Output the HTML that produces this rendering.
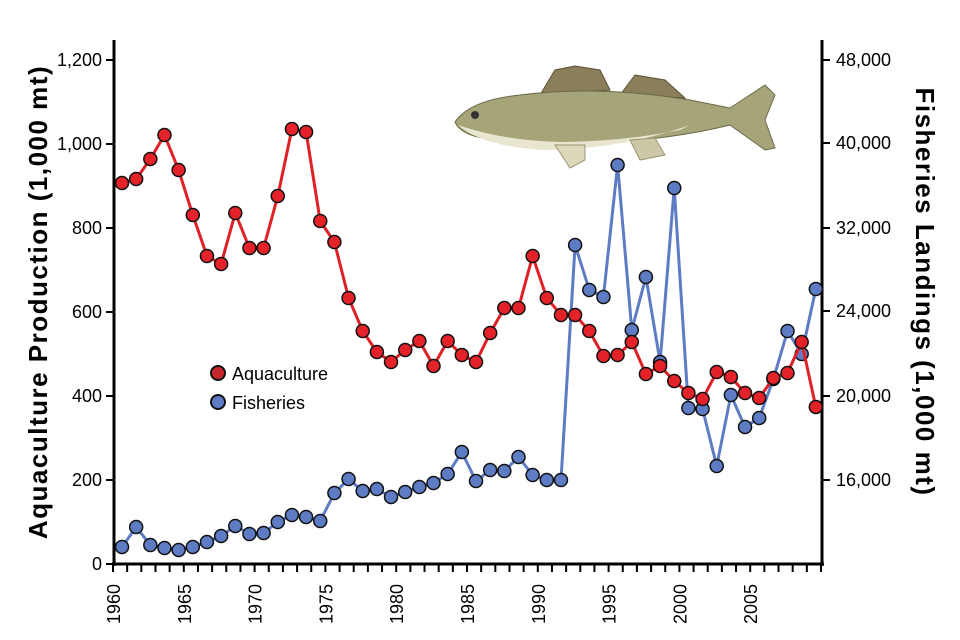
<!DOCTYPE html>
<html><head><meta charset="utf-8"><style>
html,body{margin:0;padding:0;background:#fff}
svg{display:block;font-family:"Liberation Sans",sans-serif}
</style></head><body>
<svg width="960" height="640" viewBox="0 0 960 640">
<!-- fish -->
<g>
<path d="M540 95 L555 70 L575 66 L600 70 L610 90 Z" fill="#8a7f5a" stroke="#5a5030" stroke-width="1"/>
<path d="M620 95 L635 75 L665 80 L685 98 Z" fill="#8a7f5a" stroke="#5a5030"/>
<path d="M455 122 Q470 100 520 95 Q600 85 690 100 L730 108 L765 85 L775 95 L765 120 L775 148 L765 150 L730 125 Q690 135 640 140 Q560 148 500 140 Q462 138 455 122 Z" fill="#a6a57a" stroke="#6b6a48" stroke-width="1"/>
<path d="M458 125 Q500 140 560 142 Q620 142 680 130 L690 125 Q620 150 540 150 Q480 145 458 125 Z" fill="#e9e6cf"/>
<path d="M555 145 L570 168 L585 160 L585 145 Z" fill="#ddd8bb" stroke="#9a9470"/>
<path d="M630 140 L640 160 L665 155 L655 138 Z" fill="#ccc7a6" stroke="#9a9470"/>
<circle cx="475" cy="115" r="4" fill="#333"/>
</g>
<!-- axes -->
<g stroke="#000" stroke-width="3" fill="none">
<line x1="114" y1="40" x2="114" y2="566"/>
<line x1="822" y1="40" x2="822" y2="566"/>
<line x1="112" y1="564" x2="824" y2="564"/>
</g>
<g stroke="#000" stroke-width="2">
<line x1="106" y1="60" x2="114" y2="60"/><line x1="106" y1="144" x2="114" y2="144"/>
<line x1="106" y1="228" x2="114" y2="228"/><line x1="106" y1="312" x2="114" y2="312"/>
<line x1="106" y1="396" x2="114" y2="396"/><line x1="106" y1="480" x2="114" y2="480"/>
<line x1="106" y1="564" x2="114" y2="564"/>
<line x1="822" y1="60" x2="830" y2="60"/><line x1="822" y1="143" x2="830" y2="143"/>
<line x1="822" y1="228" x2="830" y2="228"/><line x1="822" y1="311" x2="830" y2="311"/>
<line x1="822" y1="396" x2="830" y2="396"/><line x1="822" y1="480" x2="830" y2="480"/>
</g>
<g id="xt" stroke="#000" stroke-width="2"></g>
<g font-size="18" text-anchor="end" fill="#000">
<text x="102" y="66">1,200</text><text x="102" y="150">1,000</text><text x="102" y="234">800</text>
<text x="102" y="318">600</text><text x="102" y="402">400</text><text x="102" y="486">200</text><text x="102" y="570">0</text>
</g>
<g font-size="18" text-anchor="start" fill="#000">
<text x="836" y="66">48,000</text><text x="836" y="149">40,000</text><text x="836" y="234">32,000</text>
<text x="836" y="317">24,000</text><text x="836" y="402">20,000</text><text x="836" y="486">16,000</text>
</g>
<g font-size="18" fill="#000" id="xl"></g>
<text transform="translate(47,302) rotate(-90)" text-anchor="middle" font-size="26" font-weight="bold" letter-spacing="1.5">Aquaculture Production (1,000 mt)</text>
<text transform="translate(916,292) rotate(90)" text-anchor="middle" font-size="26" font-weight="bold" letter-spacing="1.5">Fisheries Landings (1,000 mt)</text>
<g id="series"></g>
<circle cx="218" cy="373" r="7" fill="#c8262a" stroke="#111" stroke-width="2"/>
<text x="232" y="380" font-size="18">Aquaculture</text>
<circle cx="218" cy="402" r="7" fill="#5e7cc4" stroke="#111" stroke-width="2"/>
<text x="232" y="409" font-size="18">Fisheries</text>
</svg>
<script>
var red=[183,179,159,135,170,215,256,264,213,248,248,196,129,132,221,242,298,331,352,362,350,341,366,341,355,362,333,308,308,256,298,315,315,331,356,355,342,374,366,381,393,399,372,377,393,398,378,373,342,407];
var blue=[547,527,545,548,550,547,542,536,526,534,533,522,515,517,521,493,479,491,489,497,492,487,483,474,452,481,470,471,457,475,480,480,245,290,297,165,330,277,362,188,408,409,466,395,427,418,379,331,354,289];
var ns="http://www.w3.org/2000/svg";
function X(i){return 122+i*14.16;}
var s=document.getElementById("series");
function draw(arr,lc,fc){
 var p=arr.map(function(y,i){return X(i).toFixed(1)+","+y}).join(" ");
 var pl=document.createElementNS(ns,"polyline");pl.setAttribute("points",p);pl.setAttribute("fill","none");pl.setAttribute("stroke",lc);pl.setAttribute("stroke-width","3");s.appendChild(pl);
 arr.forEach(function(y,i){var c=document.createElementNS(ns,"circle");c.setAttribute("cx",X(i));c.setAttribute("cy",y);c.setAttribute("r","6.5");c.setAttribute("fill",fc);c.setAttribute("stroke","#111");c.setAttribute("stroke-width","1.5");s.appendChild(c);});
}
draw(blue,"#5e7cc4","#5e7cc4");
draw(red,"#e02027","#e3222a");
var xt=document.getElementById("xt"),xl=document.getElementById("xl");
for(var i=0;i<=50;i++){var x=113+i*14.16;var l=document.createElementNS(ns,"line");l.setAttribute("x1",x);l.setAttribute("x2",x);l.setAttribute("y1",564);l.setAttribute("y2",572);xt.appendChild(l);}
for(var y=1960;y<=2005;y+=5){var i=y-1960;var t=document.createElementNS(ns,"text");var x=113+i*14.16+7;t.setAttribute("transform","translate("+x+",624) rotate(-90)");t.textContent=y;xl.appendChild(t);}
</script>
</body></html>
